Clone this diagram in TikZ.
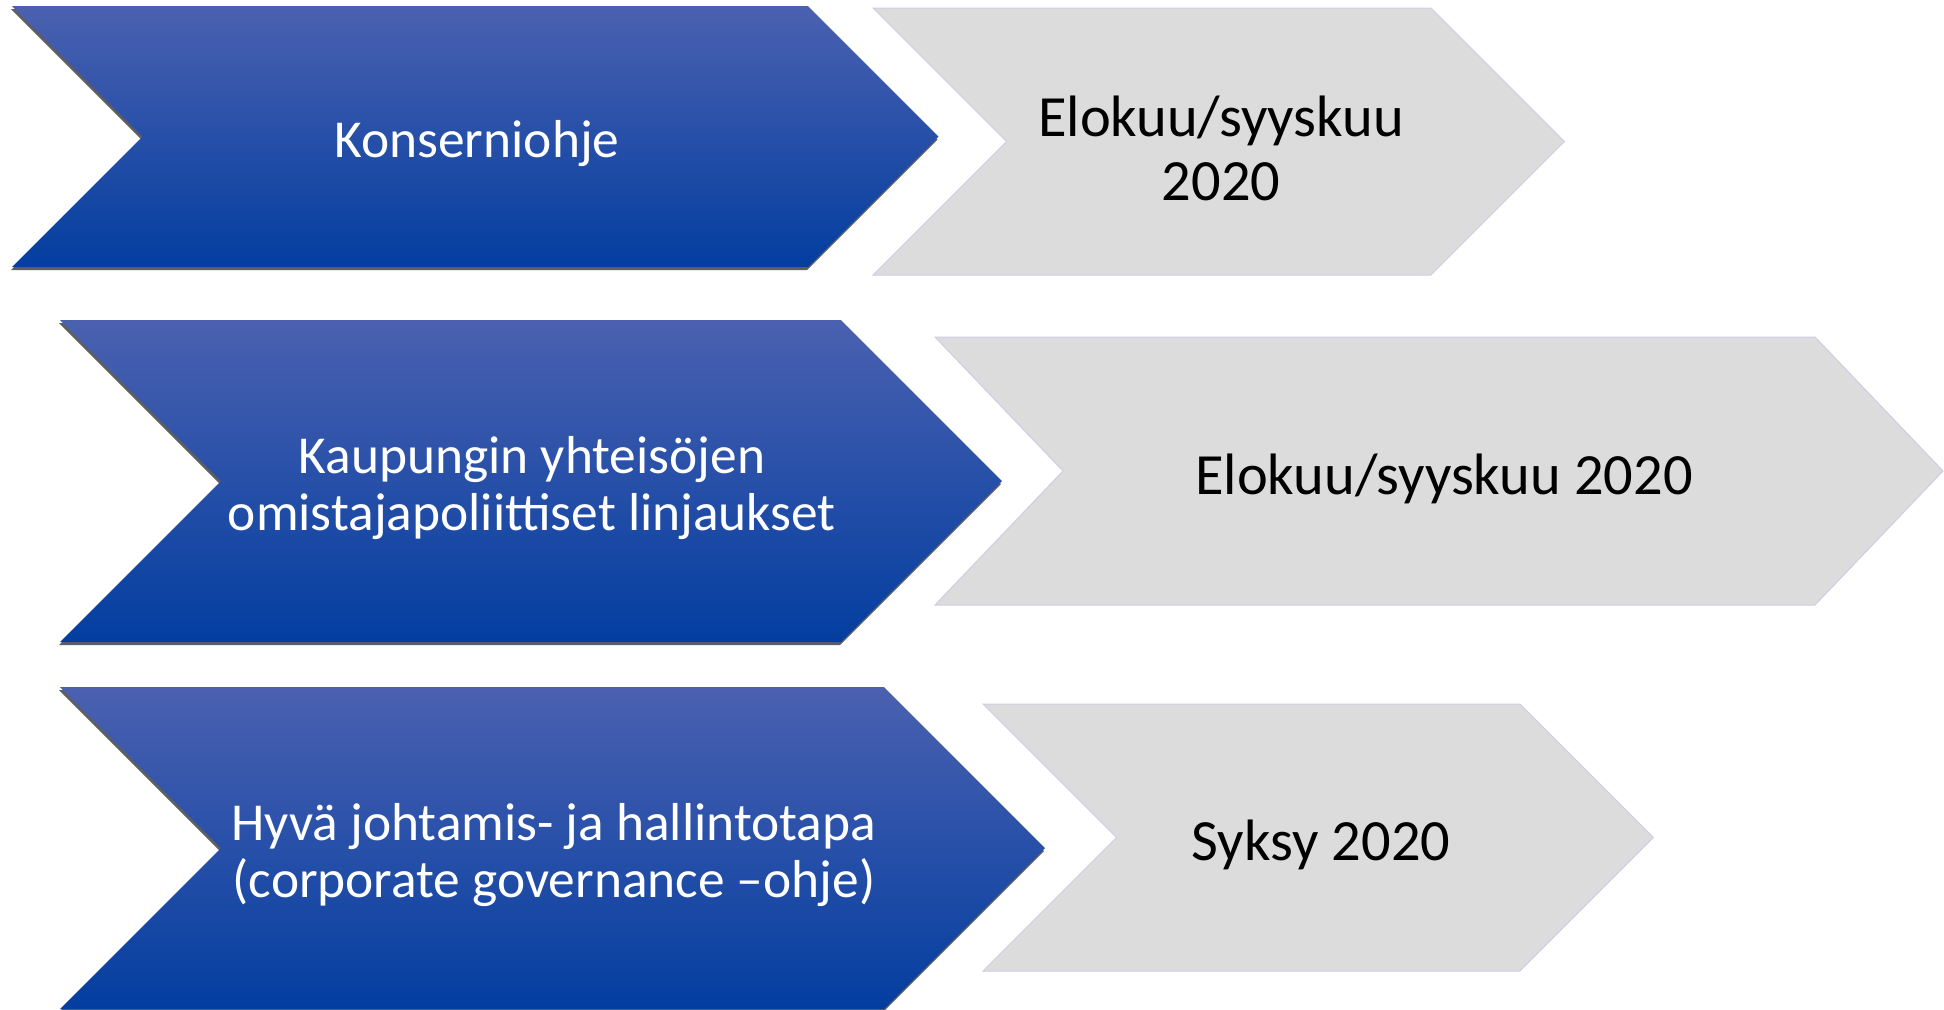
\documentclass[tikz,border=0pt]{standalone}
\usepackage{fontspec}
\setmainfont{Carlito}
\usetikzlibrary{calc}
\definecolor{chevtop}{RGB}{75, 97, 176}
\definecolor{chevbot}{RGB}{3, 62, 160}
\definecolor{chevshadow}{RGB}{95, 95, 95}
\definecolor{datefill}{RGB}{220, 220, 220}
\definecolor{dateline}{RGB}{205, 205, 228}

% chevron: options, left x, right x, top y, bottom y, point depth
\newcommand{\chevron}[6]{%
  \path[#1] (#2,#4) -- (#3,#4) -- ({#3+#6},{(#4+#5)/2}) -- (#3,#5)
    -- (#2,#5) -- ({#2+#6},{(#4+#5)/2}) -- cycle;}

\begin{document}
\begin{tikzpicture}[
                x=0.5pt, y=-0.5pt,
                topic/.style={top color=chevtop, bottom color=chevbot},
                topicshadow/.style={fill=chevshadow, xshift=-0.5pt, yshift=-1.5pt},
                date/.style={fill=datefill, draw=dateline, line width=0.5pt},
                topictext/.style={text=white, align=center, font=\fontsize{26.7}{28.5}\selectfont},
                datetext/.style={text=black, align=center, font=\fontsize{29.2}{32}\selectfont}
            ]
                \useasboundingbox (0,0) rectangle (1944,1009);

                % Topics
                \chevron{topicshadow}{12}{808}{6}{267}{130.5}
                \chevron{topic}{12}{808}{6}{267}{130.5}
                \chevron{topicshadow}{60}{841}{320}{642}{161}
                \chevron{topic}{60}{841}{320}{642}{161}
                \chevron{topicshadow}{60}{884}{687}{1009}{161}
                \chevron{topic}{60}{884}{687}{1009}{161}

                % Dates
                \chevron{date}{873}{1431}{8}{275}{133.5}
                \chevron{date}{935}{1815}{337}{605}{128}
                \chevron{date}{983}{1520}{704}{971}{133.5}

                % Texts
                \node[topictext] (konserni) at (477, 144) {Konserniohje};
                \node[topictext] (linjaukset) at (532, 488) {Kaupungin yhteisöjen\\omistajapoliittiset linjaukset};
                \node[topictext] (governance) at (554, 855) {Hyvä johtamis- ja hallintotapa\\(corporate governance –ohje)};

                \node[datetext] (konsernidate) at (1221, 148) {Elokuu/syyskuu\\2020};
                \node[datetext] (linjauksetdate) at (1444, 479) {Elokuu/syyskuu 2020};
                \node[datetext] (governancedate) at (1321, 845) {Syksy 2020};
            \end{tikzpicture}
\end{document}
